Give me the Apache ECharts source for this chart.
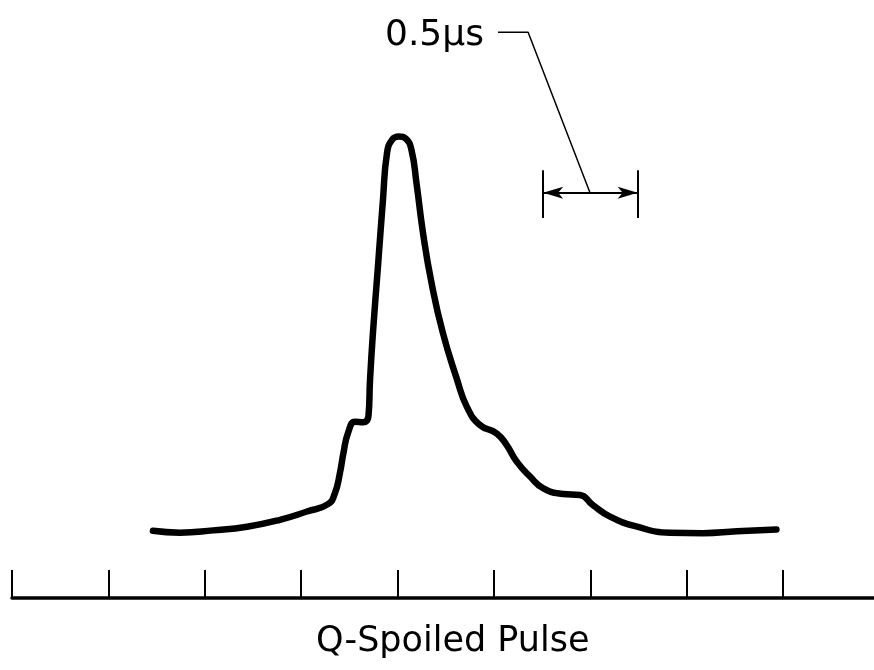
<!DOCTYPE html>
<html>
<head>
<meta charset="utf-8">
<script src="https://cdn.jsdelivr.net/npm/echarts@6/dist/echarts.min.js"></script>
<style>
  html, body { margin: 0; padding: 0; background: #fff; }
  #chart { width: 874px; height: 670px; }
</style>
</head>
<body>
<div id="chart"></div>
<script>
// time in microseconds, intensity in arbitrary units (peak ~ 1)
var timeUs = [0.731, 0.871, 1.043, 1.219, 1.390, 1.530, 1.639, 1.675, 1.701, 1.719,
    1.743, 1.779, 1.821, 1.849, 1.857, 1.872, 1.898, 1.924, 1.945, 1.971,
    2.007, 2.044, 2.072, 2.098, 2.132, 2.176, 2.235, 2.306, 2.360, 2.427,
    2.513, 2.565, 2.617, 2.687, 2.754, 2.858, 2.946, 3.013, 3.102, 3.242,
    3.413, 3.584, 3.760, 3.965];
var intensity = [0.146, 0.142, 0.147, 0.155, 0.170, 0.188, 0.204, 0.228, 0.272, 0.315,
    0.359, 0.383, 0.382, 0.396, 0.474, 0.576, 0.720, 0.865, 0.967, 0.996,
    1.003, 0.998, 0.974, 0.902, 0.793, 0.685, 0.576, 0.478, 0.415, 0.376,
    0.358, 0.333, 0.297, 0.264, 0.239, 0.226, 0.224, 0.202, 0.177, 0.155,
    0.142, 0.141, 0.145, 0.149];

var tickValues = [0, 0.5, 1, 1.5, 2, 2.5, 3, 3.5, 4];

// 0.5 us scale bar and its leader line
var barX = [2.755, 3.245];
var barY = 0.881;
var barEndY = [0.826, 0.930];
var leaderX = [2.521, 2.677, 2.998];
var leaderY = [1.230, 1.230, 0.881];

var scaleLabel = '0.5\u00b5s';
var chartTitle = 'Q-Spoiled Pulse';

var pulse = [];
for (var i = 0; i < timeUs.length; i++) {
    pulse.push([timeUs[i], intensity[i]]);
}
var leader = [];
for (var j = 0; j < leaderX.length; j++) {
    leader.push([leaderX[j], leaderY[j]]);
}

var myChart = echarts.init(document.getElementById('chart'), null, {renderer: 'canvas'});
myChart.setOption({
    backgroundColor: '#fff',
    animation: false,
    title: [{
        text: scaleLabel,
        left: 385,
        top: 18,
        padding: 0,
        textStyle: {fontFamily: 'DejaVu Sans', fontSize: 36, fontWeight: 'normal', color: '#000'}
    }, {
        text: chartTitle,
        left: 316,
        top: 624,
        padding: 0,
        textStyle: {fontFamily: 'DejaVu Sans', fontSize: 35, fontWeight: 'normal', color: '#000'}
    }],
    grid: {
        left: 12,
        right: 0,
        top: 0,
        bottom: 72
    },
    xAxis: {
        type: 'value',
        min: 0,
        max: 4.471,
        interval: 0.5,
        axisLine: {show: true, onZero: false, lineStyle: {color: '#000', width: 3.5}},
        axisTick: {
            show: true,
            inside: true,
            length: 28,
            customValues: tickValues,
            lineStyle: {color: '#000', width: 2}
        },
        axisLabel: {show: false},
        splitLine: {show: false}
    },
    yAxis: {
        type: 'value',
        min: 0,
        max: 1.3,
        show: false,
        splitLine: {show: false}
    },
    series: [{
        name: 'pulse',
        type: 'line',
        data: pulse,
        smooth: 0.5,
        showSymbol: false,
        lineStyle: {color: '#000', width: 6.5, cap: 'round', join: 'round'}
    }, {
        name: 'leader',
        type: 'line',
        data: leader,
        showSymbol: false,
        lineStyle: {color: '#000', width: 1.5},
        markLine: {
            silent: true,
            animation: false,
            label: {show: false},
            lineStyle: {color: '#000', width: 2, type: 'solid'},
            data: [
                [{coord: [barX[0], barY], symbol: 'arrow', symbolSize: [9, 20]},
                 {coord: [barX[1], barY], symbol: 'arrow', symbolSize: [9, 20]}],
                [{coord: [barX[0], barEndY[0]], symbol: 'none'},
                 {coord: [barX[0], barEndY[1]], symbol: 'none'}],
                [{coord: [barX[1], barEndY[0]], symbol: 'none'},
                 {coord: [barX[1], barEndY[1]], symbol: 'none'}]
            ]
        }
    }]
});
</script>
</body>
</html>
